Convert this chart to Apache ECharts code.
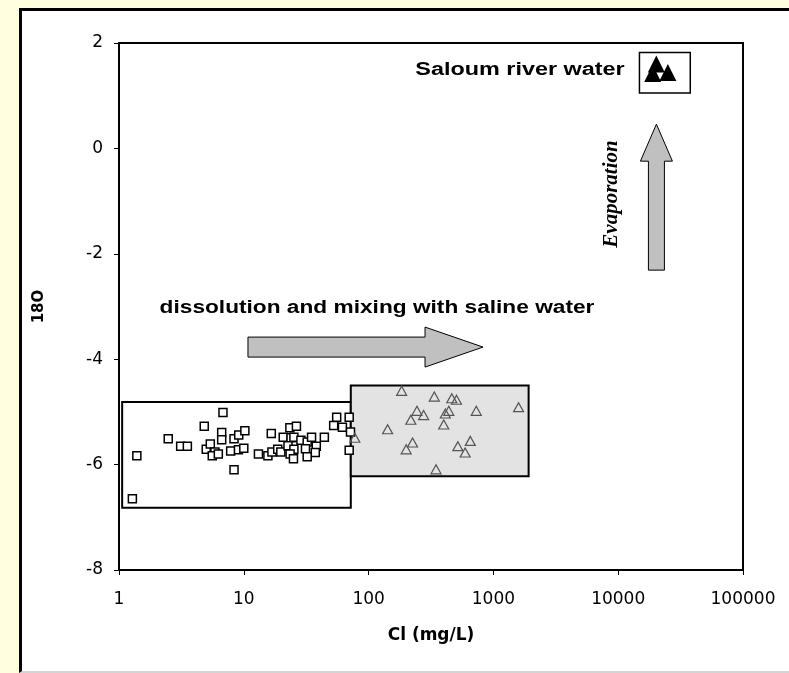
<!DOCTYPE html>
<html>
<head>
<meta charset="UTF-8">
<title></title>
<script src="https://cdn.jsdelivr.net/npm/echarts@6/dist/echarts.min.js"></script>
<style>
	html, body { margin: 0; padding: 0; background: #FFFFE0; overflow: hidden; }
	#panel { position: absolute; left: 19px; top: 8px; width: 800px; height: 660px; background: #fff;
		border-left: 3px solid #000; border-top: 3px solid #000; border-bottom: 2px solid #d4d4d4; }
	#main { position: absolute; left: 0; top: 0; width: 789px; height: 673px; }
</style>
</head>
<body>
<div id="panel"></div>
<div id="main"></div>
<script>
	// axis ticks
	var xTicks = [1, 10, 100, 1000, 10000, 100000];
	var yTicks = [-8, -6, -4, -2, 0, 2];

	// squares: low Cl groundwater
	var freshCl = [1.39, 1.28, 2.48, 3.12, 3.53, 4.82, 6.81, 5.0, 5.39, 5.87,
		5.59, 6.25, 6.65, 6.65, 8.35, 9.11, 10.2, 7.85, 9.06, 10.0,
		8.35, 13.1, 15.6, 16.6, 16.8, 18.7, 19.8, 23.4, 26.4, 20.7,
		23.9, 25.2, 22.6, 25.2, 23.5, 25.0, 28.7, 32.2, 34.9, 31.2,
		38.1, 37.4, 32.2, 44.2, 52.5, 55.5, 61.7, 69.9, 71.6, 69.9];
	var freshO18 = [-5.83, -6.65, -5.51, -5.65, -5.65, -5.27, -5.01, -5.71, -5.61, -5.76,
		-5.83, -5.80, -5.39, -5.53, -5.51, -5.44, -5.36, -5.74, -5.72, -5.69,
		-6.10, -5.80, -5.83, -5.41, -5.76, -5.71, -5.76, -5.30, -5.27, -5.48,
		-5.49, -5.48, -5.64, -5.71, -5.80, -5.89, -5.54, -5.57, -5.48, -5.70,
		-5.65, -5.77, -5.85, -5.48, -5.26, -5.10, -5.29, -5.10, -5.38, -5.73];

	// triangles: saline groundwater
	var salineCl = [184, 336, 464, 506, 244, 276, 218, 439, 412, 400,
		729, 1591, 142, 77.6, 225, 200, 519, 653, 594, 347];
	var salineO18 = [-4.60, -4.71, -4.74, -4.77, -4.98, -5.06, -5.15, -4.98, -5.03, -5.24,
		-4.98, -4.91, -5.33, -5.49, -5.58, -5.71, -5.65, -5.55, -5.77, -6.09];

	// Saloum river water
	var riverCl = [20200, 18900, 25000];
	var riverO18 = [1.60, 1.42, 1.44];

	// boxes (data coords): white group, grey group, legend box
	var boxX1 = [1.06, 72, 14800];
	var boxX2 = [72, 1915, 37800];
	var boxYTop = [-4.81, -4.50, 1.82];
	var boxYBot = [-6.82, -6.22, 1.05];
	var boxFill = ['rgba(255,255,255,0)', '#E3E3E3', '#fff'];
	var boxLine = [2, 2, 1.5];

	// arrows (data coords): mixing, evaporation
	var arrowX1 = [10.8, 20240];
	var arrowY1 = [-3.77, -2.31];
	var arrowX2 = [826, 20240];
	var arrowY2 = [-3.77, 0.46];
	var arrowBody = [10, 8];
	var arrowHead = [20, 16];
	var arrowHeadLen = [58, 37];

	function zip(a, b) {
		var out = [];
		for (var i = 0; i < a.length; i++) out.push([a[i], b[i]]);
		return out;
	}

	var boxData = [];
	for (var i = 0; i < boxX1.length; i++) boxData.push([boxX1[i], boxYTop[i], boxX2[i], boxYBot[i]]);
	var arrowData = [];
	for (var j = 0; j < arrowX1.length; j++) arrowData.push([arrowX1[j], arrowY1[j], arrowX2[j], arrowY2[j]]);

	var chart = echarts.init(document.getElementById('main'));
	chart.setOption({
		animation: false,
		backgroundColor: 'transparent',
		textStyle: { fontFamily: 'DejaVu Sans' },
		grid: {
			left: 119, right: 46, top: 43, bottom: 103,
			show: true, borderColor: '#000', borderWidth: 2,
			outerBoundsMode: 'none'
		},
		xAxis: {
			type: 'log', logBase: 10, min: xTicks[0], max: xTicks[xTicks.length - 1],
			name: 'Cl (mg/L)', nameLocation: 'middle', nameGap: 57,
			nameTextStyle: { fontWeight: 'bold', fontSize: 17, color: '#000', fontFamily: 'DejaVu Sans' },
			axisLine: { onZero: false, lineStyle: { color: '#000', width: 2 } },
			axisTick: { show: true, inside: false, length: 5, lineStyle: { color: '#000' } },
			minorTick: { show: false },
			splitLine: { show: false },
			axisLabel: {
				color: '#000', fontSize: 17, margin: 21, fontFamily: 'DejaVu Sans',
				formatter: function (v) { return String(Math.round(v)); }
			}
		},
		yAxis: {
			type: 'value', min: yTicks[0], max: yTicks[yTicks.length - 1], interval: 2,
			name: '18O', nameLocation: 'middle', nameGap: 72, nameRotate: 90,
			nameTextStyle: { fontWeight: 'bold', fontSize: 15, color: '#000', fontFamily: 'DejaVu Sans' },
			axisLine: { onZero: false, lineStyle: { color: '#000', width: 2 } },
			axisTick: { show: true, inside: false, length: 5, lineStyle: { color: '#000' } },
			splitLine: { show: false },
			axisLabel: { color: '#000', fontSize: 17, margin: 16, fontFamily: 'DejaVu Sans' }
		},
		series: [
			{
				type: 'custom', z: 1, silent: true,
				data: boxData,
				renderItem: function (params, api) {
					var p1 = api.coord([api.value(0), api.value(1)]);
					var p2 = api.coord([api.value(2), api.value(3)]);
					var k = params.dataIndex;
					return {
						type: 'rect',
						shape: { x: p1[0], y: p1[1], width: p2[0] - p1[0], height: p2[1] - p1[1] },
						style: { fill: boxFill[k], stroke: '#000', lineWidth: boxLine[k] }
					};
				}
			},
			{
				type: 'custom', z: 1, silent: true,
				data: arrowData,
				renderItem: function (params, api) {
					var p0 = api.coord([api.value(0), api.value(1)]);
					var p1 = api.coord([api.value(2), api.value(3)]);
					var k = params.dataIndex;
					var dx = p1[0] - p0[0], dy = p1[1] - p0[1];
					var len = Math.sqrt(dx * dx + dy * dy);
					var ux = dx / len, uy = dy / len, nx = -uy, ny = ux;
					var b = arrowBody[k], h = arrowHead[k], base = len - arrowHeadLen[k];
					function pt(t, w) { return [p0[0] + ux * t + nx * w, p0[1] + uy * t + ny * w]; }
					return {
						type: 'polygon',
						shape: { points: [pt(0, -b), pt(base, -b), pt(base, -h), pt(len, 0), pt(base, h), pt(base, b), pt(0, b)] },
						style: { fill: '#C0C0C0', stroke: '#000', lineWidth: 1 }
					};
				}
			},
			{
				type: 'scatter', z: 3, symbol: 'rect', symbolSize: 8,
				itemStyle: { color: '#fff', borderColor: '#000', borderWidth: 1.5, opacity: 1 },
				data: zip(freshCl, freshO18)
			},
			{
				type: 'scatter', z: 3, symbol: 'triangle', symbolSize: [10, 9],
				itemStyle: { color: 'rgba(0,0,0,0)', borderColor: '#555', borderWidth: 1.2, opacity: 1 },
				data: zip(salineCl, salineO18)
			},
			{
				type: 'scatter', z: 4, symbol: 'triangle', symbolSize: 17,
				itemStyle: { color: '#000', opacity: 1 },
				data: zip(riverCl, riverO18)
			}
		],
		graphic: [
			{
				type: 'text', x: 520, y: 70, scaleX: 1.3, z: 10,
				style: { text: 'Saloum river water', font: 'bold 18px "Liberation Sans"', fill: '#000',
					textAlign: 'center', textVerticalAlign: 'middle', align: 'center', verticalAlign: 'middle' }
			},
			{
				type: 'text', x: 377, y: 308, scaleX: 1.26, z: 10,
				style: { text: 'dissolution and mixing with saline water', font: 'bold 18px "Liberation Sans"', fill: '#000',
					textAlign: 'center', textVerticalAlign: 'middle', align: 'center', verticalAlign: 'middle' }
			},
			{
				type: 'text', x: 612, y: 194, rotation: Math.PI / 2, z: 10,
				style: { text: 'Evaporation', font: 'italic bold 21px "Liberation Serif"', fill: '#000',
					textAlign: 'center', textVerticalAlign: 'middle', align: 'center', verticalAlign: 'middle' }
			}
		]
	});
</script>
</body>
</html>
